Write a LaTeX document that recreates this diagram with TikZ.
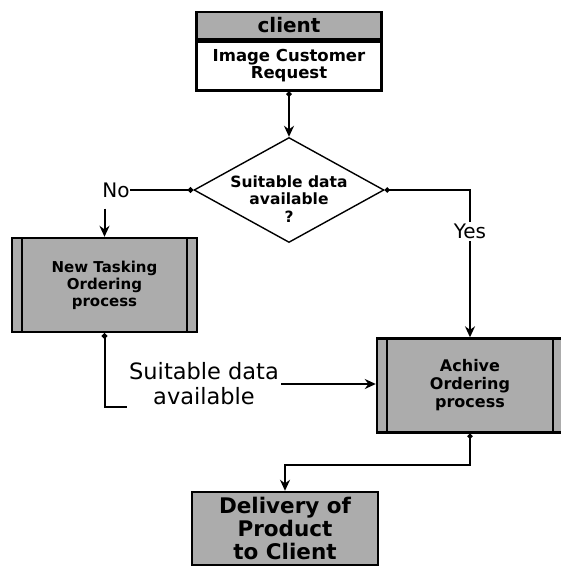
\documentclass[tikz,border=0pt]{standalone}
\usepackage{fontspec}
\setmainfont{DejaVu Sans}
\usetikzlibrary{shapes.geometric, arrows.meta, positioning, calc}

\begin{document}
\begin{tikzpicture}[
    x=1pt, y=-1pt,
    % Node styles
    procbox/.style={
        rectangle,
        draw=black,
        line width=2.4pt,
        fill=gray!65,
        inner sep=0pt,
        align=center,
        minimum width=185pt
    },
    header/.style={
        procbox,
        minimum height=27pt,
        font=\bfseries\fontsize{20}{22}\selectfont
    },
    request/.style={
        procbox,
        fill=white,
        minimum height=49pt,
        font=\bfseries\fontsize{16.5}{17}\selectfont
    },
    predef/.style={
        procbox,
        minimum height=94pt,
        path picture={
            \draw[line width=2.4pt]
                ([xshift=10pt]path picture bounding box.north west) --
                ([xshift=10pt]path picture bounding box.south west);
            \draw[line width=2.4pt]
                ([xshift=-10pt]path picture bounding box.north east) --
                ([xshift=-10pt]path picture bounding box.south east);
        }
    },
    output/.style={
        procbox,
        minimum width=186pt,
        minimum height=73pt,
        font=\bfseries\fontsize{21.5}{23}\selectfont
    },
    decision/.style={
        diamond,
        draw=black,
        line width=1.4pt,
        fill=white,
        inner sep=0pt,
        minimum width=190pt,
        minimum height=105pt
    },
    decisiontext/.style={
        align=center,
        inner sep=0pt,
        font=\bfseries\fontsize{15.5}{17.5}\selectfont
    },
    edgelabel/.style={
        fill=white,
        inner sep=2pt,
        align=center,
        font=\fontsize{20}{24}\selectfont
    },
    % Connector styles
    flow/.style={
        {Circle[length=5pt]}-{Stealth[length=11pt,width=10pt]},
        line width=2pt
    },
    dotline/.style={
        {Circle[length=5.5pt]}-,
        line width=2pt
    },
    plainflow/.style={
        -{Stealth[length=11pt,width=10pt]},
        line width=2pt
    }
]

\useasboundingbox (0,0) rectangle (560,568);

% --- Nodes ---

% Customer request
\node[header] (client) at (289,25.5) {client};
\node[request, below=0pt of client] (request) {Image Customer\\Request};

% Decision
\node[decision] (check) at (289,190) {};
\node[decisiontext] (checktext) at (289,199) {Suitable data\\available\\?};

% Ordering processes
\node[predef, font=\bfseries\fontsize{15}{17}\selectfont] (newtask) at (104.5,285) {New Tasking\\Ordering\\process};
\node[predef, minimum width=186pt, font=\bfseries\fontsize{16}{18}\selectfont] (archive) at (470,385.5) {Achive\\Ordering\\process};

% Output
\node[output] (delivery) at (285,528.5) {Delivery of\\Product\\to Client};

% --- Labels ---
\node[edgelabel, inner sep=0pt] (no) at (116,190) {No};
\node[edgelabel, font=\fontsize{22.5}{25}\selectfont] (avail) at (204,384) {Suitable data\\available};

% --- Arrows ---
\draw[flow] (request) -- (check);

\draw[dotline] (check.west) -- (no.east);
\draw[plainflow] ([yshift=-11pt]no.south -| newtask.north) -- (newtask.north);

\draw[flow] (check.east) -| node[edgelabel, pos=0.64] (yes) {Yes} (archive.north);

\draw[dotline] (newtask.south) |- (avail.south west);
\draw[plainflow] (avail.east) -- (avail.east -| archive.west);

\draw[flow] (archive.south) |- ([yshift=26pt]delivery.north) -- (delivery.north);

\end{tikzpicture}
\end{document}
